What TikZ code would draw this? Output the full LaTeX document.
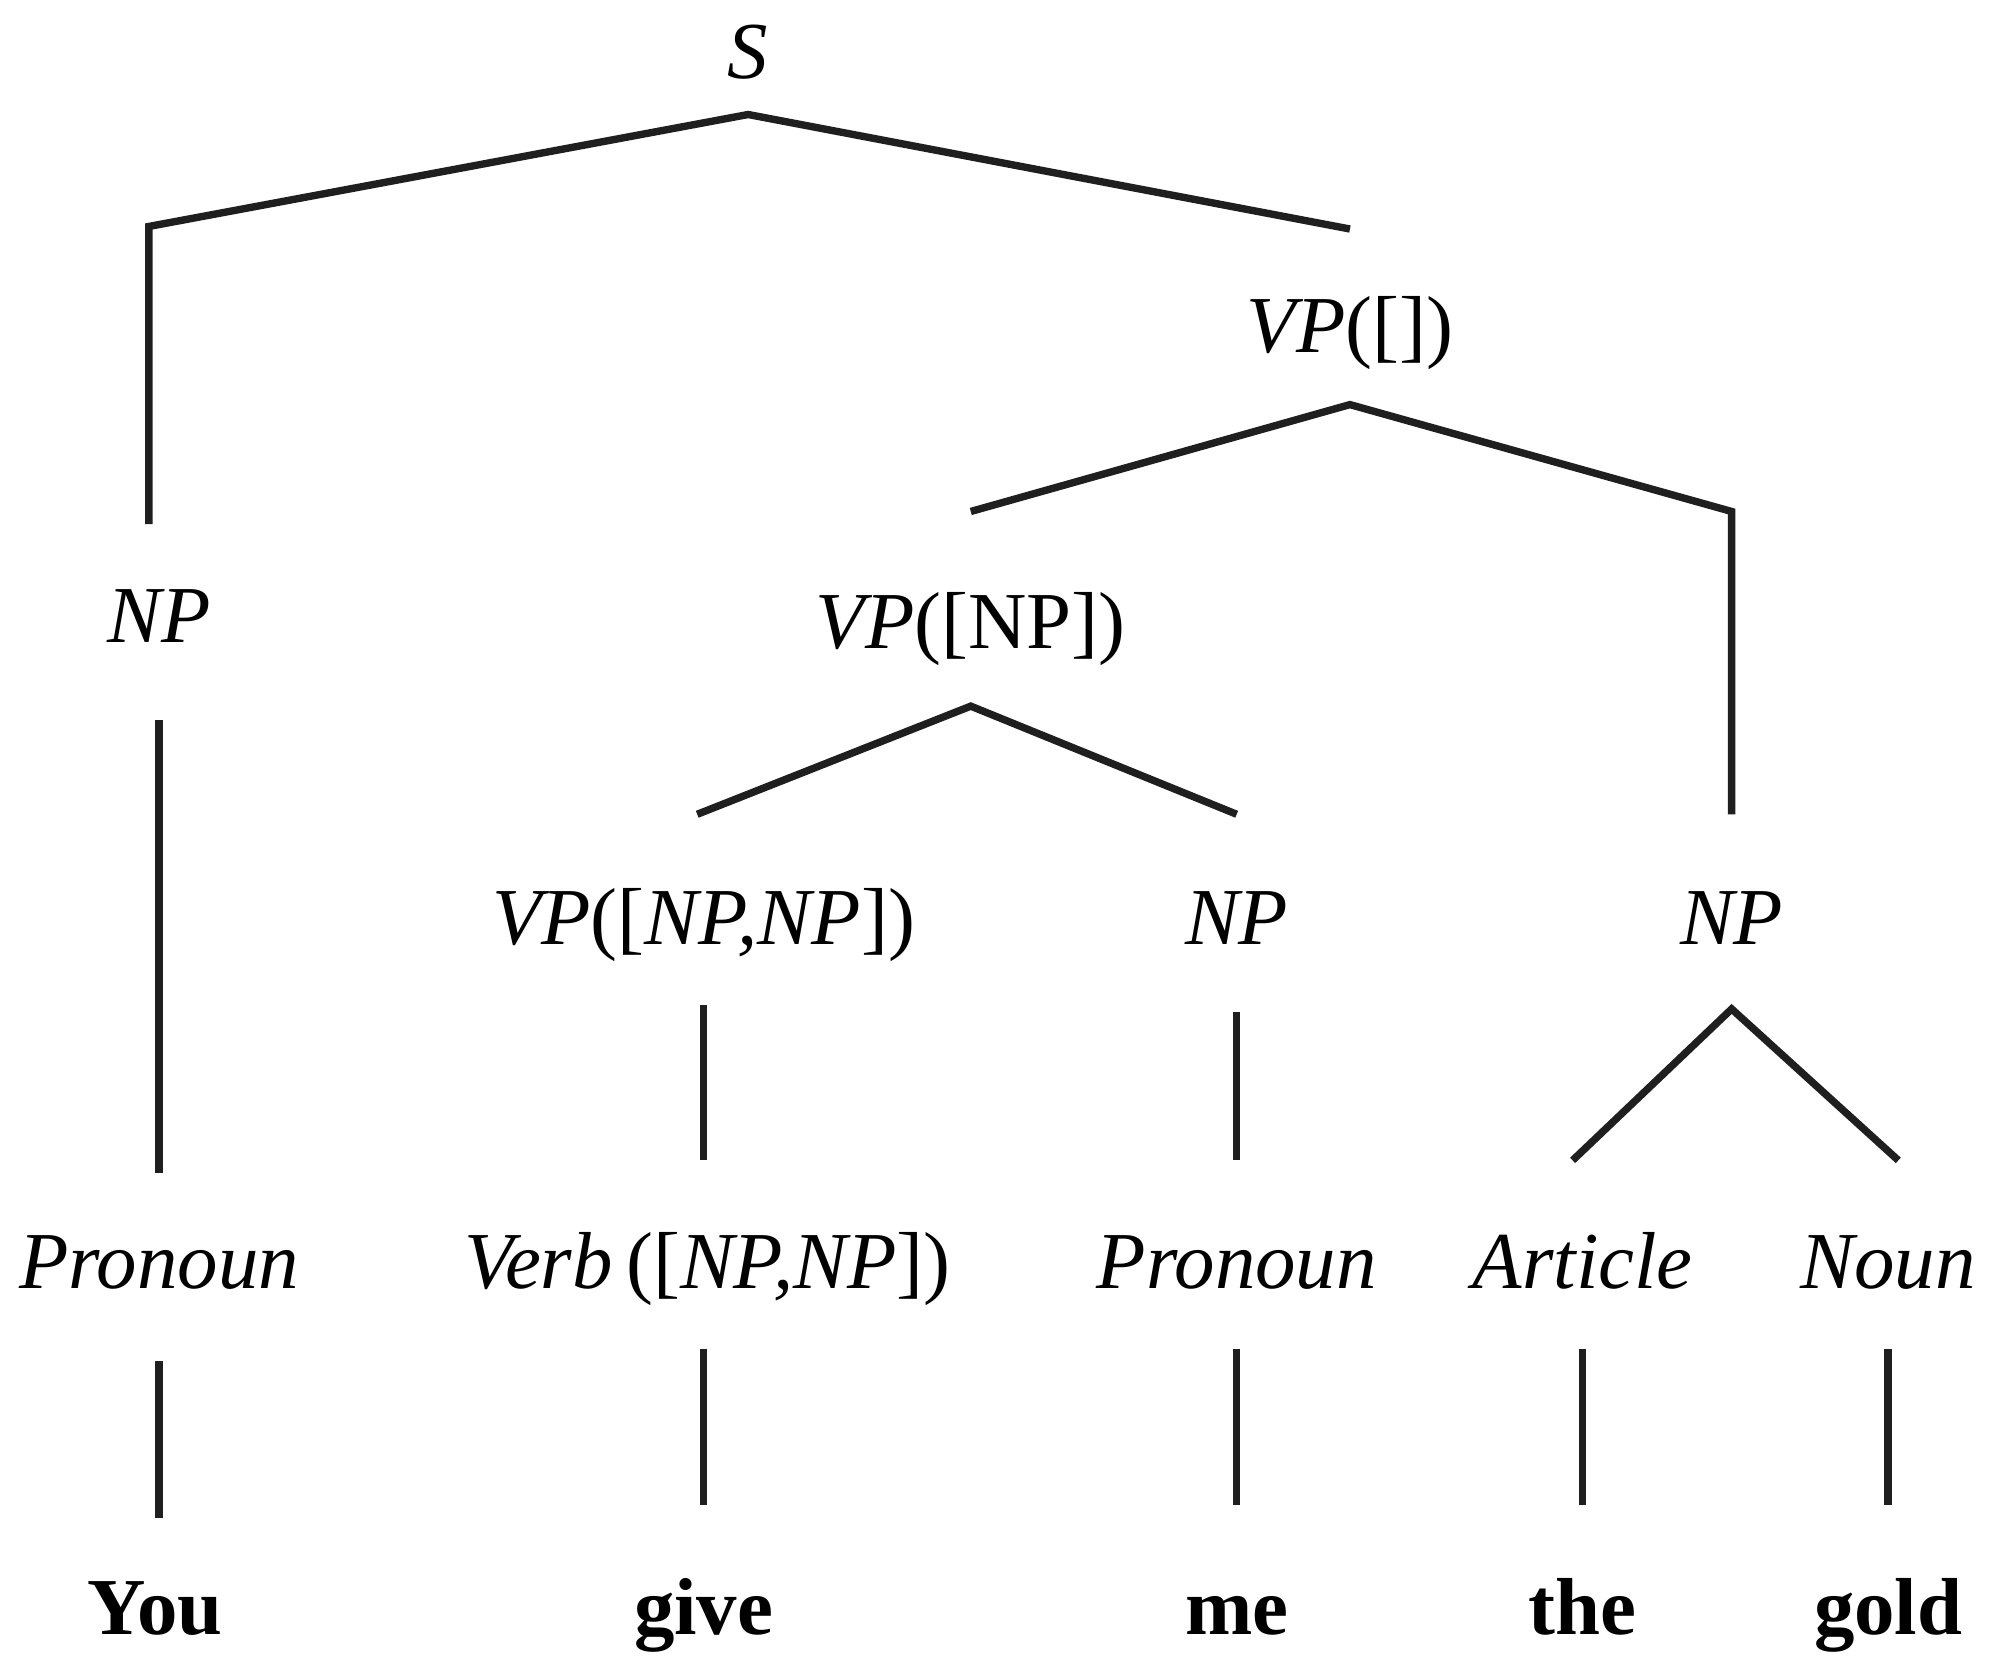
\documentclass[tikz,border=0pt]{standalone}
\usepackage{fontspec}
\setmainfont{Liberation Serif}
\usetikzlibrary{positioning}
\tikzset{
  cat/.style ={font=\fontsize{23}{28}\selectfont\itshape, anchor=base, inner sep=0pt},
  word/.style={font=\fontsize{23}{28}\selectfont\bfseries, anchor=base, inner sep=0pt},
  edge/.style={line width=2.1pt, draw=black!88},
}

\begin{document}
\begin{tikzpicture}[x=0.012723cm, y=-0.012723cm]
  \useasboundingbox (0,0) rectangle (1568,1316);
  % categories
  \node[cat] (s)     at (588,62)    {S};
  \node[cat] (vp0)   at (1061,277)  {VP\upshape([])};
  \node[cat] (npA)   at (125,505)   {NP};
  \node[cat] (vp1)   at (763,510)   {VP\upshape([NP])};
  \node[cat] (vp2)   at (553,742)   {VP\upshape([\itshape NP,NP\upshape])};
  \node[cat] (npB)   at (972,742)   {NP};
  \node[cat] (npC)   at (1361,742)  {NP};
  \node[cat] (proA)  at (125,1013)  {Pronoun};
  \node[cat] (verb)  at (556,1013)  {Verb\,\upshape([\itshape NP,NP\upshape])};
  \node[cat] (proB)  at (972,1013)  {Pronoun};
  \node[cat] (art)   at (1244,1013) {Article};
  \node[cat] (noun)  at (1484,1013) {Noun};
  % words
  \node[word] (you)  at (122,1285)  {You};
  \node[word] (give) at (553,1285)  {give};
  \node[word] (me)   at (972,1285)  {me};
  \node[word] (the)  at (1244,1285) {the};
  \node[word] (gold) at (1484,1285) {gold};
  % branch points
  \coordinate (sTop)   at (588,90);
  \coordinate (sL)     at (117,178);
  \coordinate (sLb)    at (117,412);
  \coordinate (sR)     at (1061,180);
  \coordinate (vp0Top) at (1061,318);
  \coordinate (vp0L)   at (763,402);
  \coordinate (vp0R)   at (1361,402);
  \coordinate (vp0Rb)  at (1361,640);
  \coordinate (vp1Top) at (763,555);
  \coordinate (vp1L)   at (548,640);
  \coordinate (vp1R)   at (972,640);
  \coordinate (npCTop) at (1361,793);
  \coordinate (npCL)   at (1236,912);
  \coordinate (npCR)   at (1492,912);
  % unary lines
  \coordinate (npAt)  at (125,566);  \coordinate (npAb)  at (125,922);
  \coordinate (vp2t)  at (553,790);  \coordinate (vp2b)  at (553,912);
  \coordinate (npBt)  at (972,795);  \coordinate (npBb)  at (972,912);
  \coordinate (proAt) at (125,1070); \coordinate (proAb) at (125,1193);
  \coordinate (verbt) at (553,1060); \coordinate (verbb) at (553,1183);
  \coordinate (proBt) at (972,1060); \coordinate (proBb) at (972,1183);
  \coordinate (artt)  at (1244,1060);\coordinate (artb)  at (1244,1183);
  \coordinate (nount) at (1484,1060);\coordinate (nounb) at (1484,1183);
  % edges
  \draw[edge] (sLb) -- (sL) -- (sTop) -- (sR);
  \draw[edge] (vp0L) -- (vp0Top) -- (vp0R) -- (vp0Rb);
  \draw[edge] (vp1L) -- (vp1Top) -- (vp1R);
  \draw[edge] (npCL) -- (npCTop) -- (npCR);
  \draw[edge] (npAt) -- (npAb);
  \draw[edge] (vp2t) -- (vp2b);
  \draw[edge] (npBt) -- (npBb);
  \draw[edge] (proAt) -- (proAb);
  \draw[edge] (verbt) -- (verbb);
  \draw[edge] (proBt) -- (proBb);
  \draw[edge] (artt) -- (artb);
  \draw[edge] (nount) -- (nounb);
\end{tikzpicture}
\end{document}
